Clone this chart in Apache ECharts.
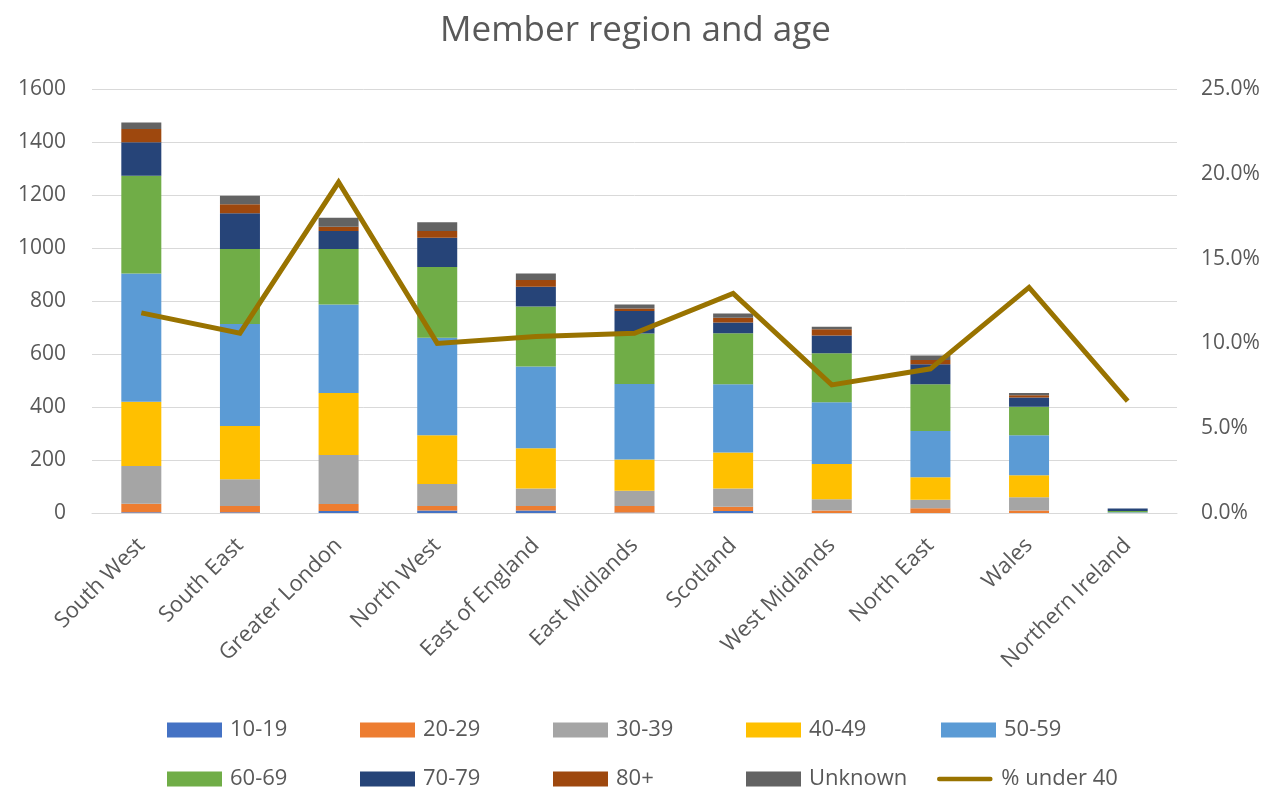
<!DOCTYPE html>
<html>
<head>
<meta charset="utf-8">
<script src="https://cdn.jsdelivr.net/npm/echarts@6/dist/echarts.min.js"></script>
<style>
html,body{margin:0;padding:0;background:#fff;}
#chart{width:1271px;height:787px;}
</style>
</head>
<body>
<div id="chart"></div>
<script>
const regions = ['South West','South East','Greater London','North West','East of England','East Midlands','Scotland','West Midlands','North East','Wales','Northern Ireland'];
const age10_19 = [3, 3, 8, 9, 9, 2, 8, 0, 0, 0, 0];
const age20_29 = [32, 23, 26, 17, 17, 24, 16, 9, 18, 9, 0];
const age30_39 = [142, 101, 185, 83, 66, 58, 68, 43, 32, 50, 1];
const age40_49 = [243, 201, 234, 184, 152, 118, 136, 133, 85, 83, 0];
const age50_59 = [484, 385, 334, 368, 309, 285, 258, 233, 174, 151, 2];
const age60_69 = [369, 283, 209, 267, 226, 190, 192, 185, 177, 108, 5];
const age70_79 = [126, 135, 68, 111, 75, 85, 41, 67, 75, 35, 9];
const age80plus = [50, 34, 16, 25, 25, 10, 18, 23, 16, 8, 0];
const ageUnknown = [25, 32, 34, 33, 25, 15, 16, 10, 17, 9, 0];
const pctUnder40 = [11.8, 10.6, 19.5, 10.0, 10.4, 10.6, 12.95, 7.55, 8.5, 13.3, 6.6];
const leftTicks = {min: 0, max: 1600, interval: 200};
const rightTicks = {min: 0, max: 25, interval: 5};

const bands = [
  ['10-19', age10_19, '#4472C4'],
  ['20-29', age20_29, '#ED7D31'],
  ['30-39', age30_39, '#A5A5A5'],
  ['40-49', age40_49, '#FFC000'],
  ['50-59', age50_59, '#5B9BD5'],
  ['60-69', age60_69, '#70AD47'],
  ['70-79', age70_79, '#264478'],
  ['80+', age80plus, '#9E480E'],
  ['Unknown', ageUnknown, '#636363']
];
const lineName = '% under 40';
const lineColor = '#997300';
const FONT = '"Open Sans", sans-serif';
const TXT = '#595959';

const series = bands.map(b => ({
  name: b[0], type: 'bar', stack: 'age', data: b[1], barWidth: 40,
  itemStyle: {color: b[2]}, emphasis: {disabled: true}
}));
series.push({
  name: lineName, type: 'line', yAxisIndex: 1, data: pctUnder40,
  symbol: 'none', lineStyle: {color: lineColor, width: 5, join: 'miter'},
  itemStyle: {color: lineColor}, z: 5
});

const legendNames = ['10-19','20-29','30-39','40-49','50-59','60-69','70-79','80+','Unknown',lineName];
const colX = [167, 360, 553, 746, 941];
const lineIcon = 'path://M0,0 M2.5,6 L60.5,6 A2.5,2.5 0 0 1 60.5,11 L2.5,11 A2.5,2.5 0 0 1 2.5,6 Z M63,17';
const legends = legendNames.map((n, i) => {
  const row = Math.floor(i / 5), col = i % 5;
  const isLine = n === lineName;
  return {
    data: [isLine ? {name: n, icon: lineIcon} : n],
    left: isLine ? 937 : colX[col], top: row === 0 ? 719 : 768,
    padding: 0, itemWidth: isLine ? 63 : 55, itemHeight: 15, icon: 'rect',
    selectedMode: false,
    textStyle: {fontFamily: FONT, fontSize: 22, color: TXT, lineHeight: 15, padding: [0,0,0,isLine ? 0 : 3]}
  };
});

const chart = echarts.init(document.getElementById('chart'));
chart.setOption({
  animation: false,
  backgroundColor: '#fff',
  title: {
    text: 'Member region and age', left: 'center', top: 9,
    textStyle: {fontFamily: FONT, fontSize: 35, fontWeight: 'normal', color: TXT}
  },
  legend: legends,
  grid: {left: 92, right: 94, top: 89, bottom: 274, containLabel: false},
  xAxis: {
    type: 'category', data: regions,
    axisLine: {show: true, lineStyle: {color: '#d9d9d9', width: 1}},
    axisTick: {show: false},
    axisLabel: {rotate: 45, margin: 29, fontFamily: FONT, fontSize: 22, color: TXT, interval: 0}
  },
  yAxis: [
    {
      type: 'value', min: leftTicks.min, max: leftTicks.max, interval: leftTicks.interval,
      axisLine: {show: false}, axisTick: {show: false},
      splitLine: {lineStyle: {color: '#d9d9d9', width: 1}},
      axisLabel: {margin: 26, fontFamily: FONT, fontSize: 21, color: TXT,
        formatter: v => String(v)}
    },
    {
      type: 'value', min: rightTicks.min, max: rightTicks.max, interval: rightTicks.interval,
      axisLine: {show: false}, axisTick: {show: false}, splitLine: {show: false},
      axisLabel: {margin: 24, fontFamily: FONT, fontSize: 21, color: TXT,
        formatter: v => v.toFixed(1) + '%'}
    }
  ],
  series: series
});
</script>
</body>
</html>
